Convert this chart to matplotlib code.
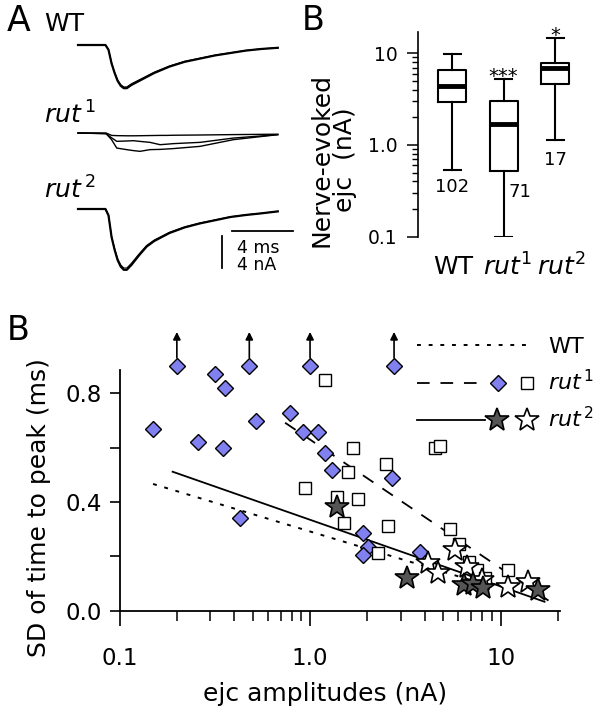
import numpy as np
import matplotlib
matplotlib.use('Agg')
import matplotlib.pyplot as plt
from matplotlib.ticker import FixedLocator, LogLocator, NullFormatter

W, H = 601, 715

# ---------------- panel A: example ejc traces (time in ms, current in nA) -------------
wt_t = [0, 1.8, 2.0, 2.2, 2.4, 2.6, 2.8, 3.0, 3.2, 3.5, 4.0, 4.5, 5.0, 6.0, 7.0, 8.0, 9.0, 10.0, 11.0, 12.0, 13.1]
wt_i = [0, 0, -0.6, -2.3, -3.5, -4.5, -5.1, -5.4, -5.4, -5.0, -4.5, -4.0, -3.5, -2.7, -2.1, -1.7, -1.3, -1.0, -0.7, -0.5, -0.35]

rut1_t = [0, 1.84, 2.2, 2.54, 3.19, 3.63, 4.07, 4.72, 5.38, 5.81, 6.25, 8.0, 10.2, 13.1]
rut1_ia = [0, 0, -0.3, -0.33, -0.35, -0.35, -0.34, -0.32, -0.3, -0.3, -0.28, -0.25, -0.2, -0.15]
rut1_ib = [0, -0.08, -0.6, -1.04, -1.0, -0.96, -1.05, -1.17, -1.46, -1.4, -1.33, -1.17, -0.63, -0.21]
rut1_ic = [0, -0.08, -0.83, -1.88, -2.08, -2.2, -2.29, -2.08, -2.05, -2.0, -1.95, -1.67, -0.83, -0.21]

rut2_t = [0, 1.8, 2.0, 2.2, 2.4, 2.6, 2.8, 3.0, 3.2, 3.5, 4.0, 4.5, 5.0, 6.0, 7.0, 8.0, 9.0, 10.0, 11.0, 12.0, 13.1]
rut2_i = [0, 0, -0.8, -3.5, -5.1, -6.4, -7.2, -7.6, -7.6, -7.0, -5.8, -4.7, -4.0, -3.0, -2.3, -1.8, -1.4, -1.0, -0.75, -0.55, -0.3]

# ---------------- panel B: nerve-evoked ejc box plots (nA) ----------------
groups = ['WT', 'rut1', 'rut2']
box_whislo = [0.54, 0.1, 1.13]
box_q1 = [2.92, 0.52, 4.59]
box_med = [4.43, 1.68, 6.86]
box_q3 = [6.58, 3.02, 7.9]
box_whishi = [9.8, 5.2, 14.6]
box_n = ['102', '71', '17']
box_sig = ['', '***', '*']

# ---------------- panel B (bottom): SD of time to peak vs ejc amplitude ----------------
dia_x = [0.149, 0.2, 0.257, 0.317, 0.348, 0.358, 0.429, 0.48, 0.521, 0.785, 0.922, 1.0,
         1.106, 1.2, 1.3, 1.905, 2.02, 1.905, 2.68, 2.76, 3.78]
dia_y = [0.668, 0.9, 0.619, 0.869, 0.599, 0.818, 0.34, 0.9, 0.699, 0.728, 0.656, 0.9,
         0.656, 0.579, 0.517, 0.285, 0.235, 0.205, 0.487, 0.9, 0.217]
offscale_x = [0.2, 0.48, 1.0, 2.76]

sq_x = [0.94, 1.2, 1.39, 1.5, 1.59, 1.69, 1.79, 2.28, 2.5, 2.58, 4.53, 4.81, 5.43, 6.08,
        6.79, 7.5, 8.3, 11.0]
sq_y = [0.45, 0.848, 0.419, 0.321, 0.509, 0.599, 0.41, 0.211, 0.539, 0.311, 0.597, 0.605,
        0.299, 0.244, 0.18, 0.15, 0.119, 0.15]

fstar_x = [1.38, 3.22, 6.4, 7.2, 8.1, 15.8]
fstar_y = [0.382, 0.119, 0.094, 0.10, 0.082, 0.076]
ostar_x = [4.18, 4.72, 5.77, 6.64, 7.98, 11.0, 14.0]
ostar_y = [0.174, 0.137, 0.223, 0.162, 0.113, 0.088, 0.107]

fit_wt_x, fit_wt_y = [0.15, 9.0], [0.466, 0.089]
fit_r1_x, fit_r1_y = [0.74, 19.3], [0.691, 0.021]
fit_r2_x, fit_r2_y = [0.19, 17.0], [0.511, 0.033]

DIA_C = '#8080f0'
STAR_C = '#555555'


def rect(x0, y0, x1, y1):
    return [x0 / W, 1 - y1 / H, (x1 - x0) / W, (y1 - y0) / H]


fig = plt.figure(figsize=(W / 100, H / 100), dpi=100)

# overlay in pixel coordinates for labels and legend (kept on top)
ov = fig.add_axes([0, 0, 1, 1])
ov.set_xlim(0, W)
ov.set_ylim(H, 0)
ov.axis('off')
ov.set_zorder(10)

# ---- panel A ----
axa = fig.add_axes(rect(70, 35, 300, 285))
axa.set_xlim(-0.525, 14.557)
axa.set_ylim(0, 31.25)
axa.axis('off')
axa.plot(wt_t, np.array(wt_i) + 30.0, color='k', lw=1.6)
axa.plot(wt_t, np.array(wt_i) * 0.97 + 30.0, color='k', lw=0.8)
for tr in (rut1_ia, rut1_ib, rut1_ic):
    axa.plot(rut1_t, np.array(tr) + 19.0, color='k', lw=1.0)
axa.plot(rut2_t, np.array(rut2_i) + 9.5, color='k', lw=1.6)
axa.plot(rut2_t, np.array(rut2_i) * 0.97 + 9.5, color='k', lw=0.8)
# scale bars
axa.plot([10.1, 14.1], [6.75, 6.75], color='k', lw=1.3)
axa.plot([9.44, 9.44], [2.125, 6.125], color='k', lw=1.3)
axa.text(10.43, 4.63, '4 ms', fontsize=12.5, va='center', ha='left')
axa.text(10.43, 2.5, '4 nA', fontsize=12.5, va='center', ha='left')

ov.text(7, 21, 'A', fontsize=25, ha='left', va='center')
ov.text(44, 24, 'WT', fontsize=18, ha='left', va='center')
ov.text(44, 124, r'$\mathit{rut}^{\,1}$', fontsize=18, ha='left', va='baseline')
ov.text(44, 199, r'$\mathit{rut}^{\,2}$', fontsize=18, ha='left', va='baseline')

# ---- panel B (box plots) ----
axb = fig.add_axes(rect(418.3, 31.7, 590, 236.7))
stats = []
for k in range(3):
    stats.append(dict(med=box_med[k], q1=box_q1[k], q3=box_q3[k],
                      whislo=box_whislo[k], whishi=box_whishi[k], label=groups[k]))
axb.bxp(stats, positions=[1, 2, 3], widths=0.54, capwidths=0.33, showfliers=False,
        boxprops=dict(lw=1.5, color='k'), whiskerprops=dict(lw=1.5, color='k'),
        capprops=dict(lw=1.5, color='k'), medianprops=dict(lw=3.5, color='k'))
axb.set_yscale('log')
axb.set_ylim(0.1, 17.2)
axb.set_xlim(0.34, 3.68)
for s in ('top', 'right', 'bottom'):
    axb.spines[s].set_visible(False)
axb.spines['left'].set_linewidth(1.2)
axb.set_xticks([])
axb.yaxis.set_major_locator(FixedLocator([0.1, 1, 10]))
axb.set_yticklabels(['0.1', '1.0', '10'])
axb.yaxis.set_minor_locator(LogLocator(subs=np.arange(2, 10)))
axb.yaxis.set_minor_formatter(NullFormatter())
axb.tick_params(axis='y', which='major', length=8, width=1.1, pad=7, labelsize=13.5)
axb.tick_params(axis='y', which='minor', length=4.5, width=1.0)

for k in range(3):
    if box_sig[k]:
        axb.annotate(box_sig[k], xy=(k + 1, box_whishi[k]), xytext=(0, -2),
                     textcoords='offset points', ha='center', va='baseline', fontsize=14)
axb.annotate(box_n[0], xy=(1, box_whislo[0]), xytext=(0, -12.7), textcoords='offset points',
             ha='center', va='center', fontsize=13)
axb.annotate(box_n[1], xy=(2, box_q1[1]), xytext=(11.5, -15), textcoords='offset points',
             ha='center', va='center', fontsize=13)
axb.annotate(box_n[2], xy=(3, box_whislo[2]), xytext=(0, -14.4), textcoords='offset points',
             ha='center', va='center', fontsize=13)

ov.text(302, 20, 'B', fontsize=24, ha='left', va='center')
ov.text(333, 160, 'Nerve-evoked\nejc  (nA)', fontsize=18, rotation=90, ha='center',
        va='center', multialignment='center', linespacing=0.95)
ov.text(453, 267, 'WT', fontsize=18, ha='center', va='center')
ov.text(508, 267, r'$\mathit{rut}^{1}$', fontsize=18, ha='center', va='center')
ov.text(562, 267, r'$\mathit{rut}^{2}$', fontsize=18, ha='center', va='center')

# ---- bottom panel (scatter) ----
ax = fig.add_axes(rect(119.5, 370, 560, 610.7))
ax.set_xscale('log')
ax.set_xlim(0.1, 20.5)
ax.set_ylim(0, 0.885)
for s in ('top', 'right'):
    ax.spines[s].set_visible(False)
for s in ('left', 'bottom'):
    ax.spines[s].set_linewidth(1.3)

ax.plot(fit_wt_x, fit_wt_y, color='k', lw=1.4, ls=(0, (2, 4)), zorder=2)
ax.plot(fit_r1_x, fit_r1_y, color='k', lw=1.3, ls=(0, (7, 6)), zorder=2)
ax.plot(fit_r2_x, fit_r2_y, color='k', lw=1.3, ls='-', zorder=2)

ax.plot(dia_x, dia_y, ls='none', marker='D', ms=8, mfc=DIA_C, mec='k', mew=1.0,
        clip_on=False, zorder=3)
ax.plot(sq_x, sq_y, ls='none', marker='s', ms=8.5, mfc='white', mec='k', mew=1.0,
        clip_on=False, zorder=4)
ax.plot(ostar_x, ostar_y, ls='none', marker='*', ms=18, mfc='white', mec='k', mew=1.2,
        clip_on=False, zorder=5)
ax.plot(fstar_x, fstar_y, ls='none', marker='*', ms=18, mfc=STAR_C, mec='k', mew=1.2,
        clip_on=False, zorder=6)
for xa in offscale_x:
    ax.annotate('', xy=(xa, 1.025), xytext=(xa, 0.93),
                arrowprops=dict(arrowstyle='-|>', color='k', lw=1.2, mutation_scale=11,
                                shrinkA=0, shrinkB=0),
                annotation_clip=False)

ax.set_yticks([0, 0.2, 0.4, 0.6, 0.8])
ax.set_yticklabels(['0.0', '', '0.4', '', '0.8'])
ax.xaxis.set_major_locator(FixedLocator([0.1, 1, 10]))
ax.set_xticklabels(['0.1', '1.0', '10'])
ax.xaxis.set_minor_locator(LogLocator(subs=np.arange(2, 10)))
ax.xaxis.set_minor_formatter(NullFormatter())
ax.tick_params(axis='x', which='major', length=11, width=1.2, pad=15, labelsize=16.5)
ax.tick_params(axis='x', which='minor', length=7, width=1.1)
ax.tick_params(axis='y', which='major', length=7, width=1.2, pad=6, labelsize=16.5)

ov.text(7, 331, 'B', fontsize=24, ha='left', va='center')
ov.text(39, 508, 'SD of time to peak (ms)', fontsize=18, rotation=90, ha='center', va='center')
ov.text(325, 694, 'ejc amplitudes (nA)', fontsize=18, ha='center', va='center')

# legend
ov.plot([417, 530], [345, 345], color='k', lw=1.4, ls=(0, (2, 4)))
ov.text(548, 353, 'WT', fontsize=16, ha='left', va='baseline')
ov.plot([417, 480], [383, 383], color='k', lw=1.3, ls=(0, (7, 6)))
ov.plot([498], [383], ls='none', marker='D', ms=8, mfc=DIA_C, mec='k', mew=1.0)
ov.plot([527], [383], ls='none', marker='s', ms=8.5, mfc='white', mec='k', mew=1.0)
ov.text(548, 390, r'$\mathit{rut}^{\,1}$', fontsize=16, ha='left', va='baseline')
ov.plot([417, 485], [420, 420], color='k', lw=1.3)
ov.plot([497], [420], ls='none', marker='*', ms=18, mfc=STAR_C, mec='k', mew=1.2)
ov.plot([527], [420], ls='none', marker='*', ms=18, mfc='white', mec='k', mew=1.2)
ov.text(548, 427, r'$\mathit{rut}^{\,2}$', fontsize=16, ha='left', va='baseline')

fig.savefig('out.png', dpi=100)
